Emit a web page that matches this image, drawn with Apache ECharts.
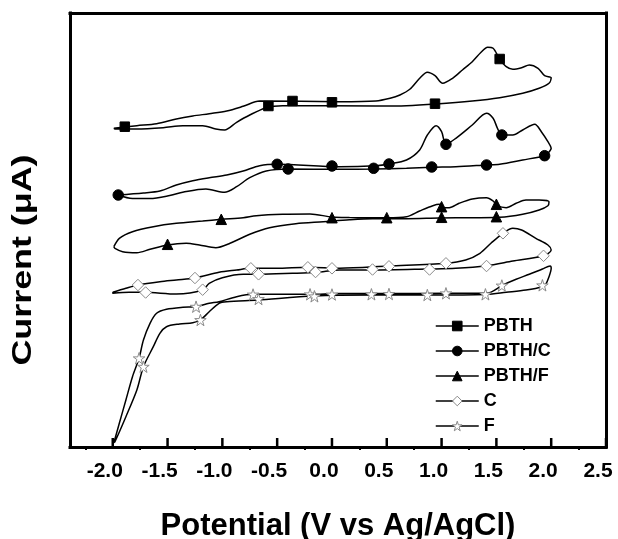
<!DOCTYPE html>
<html><head><meta charset="utf-8">
<script src="https://cdn.jsdelivr.net/npm/echarts@6/dist/echarts.min.js"></script>
<style>html,body{margin:0;padding:0;background:#fff}#c{width:618px;height:539px}</style>
</head><body><div id="c"></div>
<script>
// ---- data (potential in V, current in arbitrary offset units) ----
const seriesNames = ['PBTH', 'PBTH/C', 'PBTH/F', 'C', 'F'];
const xTickValues = [-2.0, -1.5, -1.0, -0.5, 0.0, 0.5, 1.0, 1.5, 2.0, 2.5];
const xMinorTicks = [-2.25, -1.75, -1.25, -0.75, -0.25, 0.25, 0.75, 1.25, 1.75, 2.25];

const pbthLoop = [[-1.99,31.87],[-1.78,32.13],[-1.60,32.33],[-1.42,32.80],[-1.27,33.10],[-1.12,33.33],[-0.96,33.60],[-0.81,34.07],[-0.66,34.60],[0.07,34.53],[0.40,34.60],[0.53,34.87],[0.62,35.20],[0.71,35.77],[0.80,36.87],[0.87,37.47],[0.94,37.13],[1.01,36.37],[1.10,36.87],[1.19,37.70],[1.28,38.53],[1.36,39.47],[1.42,39.97],[1.47,39.87],[1.53,38.80],[1.59,38.03],[1.65,37.77],[1.73,37.93],[1.80,38.20],[1.88,37.87],[1.94,37.13],[2.00,36.93],[1.98,36.37],[1.89,35.87],[1.74,35.37],[1.53,34.93],[1.28,34.60],[0.95,34.30],[0.68,34.13],[0.40,34.10],[-0.45,34.13],[-0.60,33.93],[-0.75,33.20],[-0.87,32.47],[-0.98,31.70],[-1.06,31.80],[-1.18,32.13],[-1.36,32.13],[-1.54,31.93],[-1.78,31.80],[-1.98,31.80],[-1.99,31.87]];
const pbthMarks = [[-1.89,32.03],[-0.58,34.10],[-0.36,34.60],[0.00,34.47],[0.94,34.33],[1.53,38.80]];

const pbthCLoop = [[-1.95,25.20],[-1.72,25.40],[-1.57,25.60],[-1.42,26.20],[-1.27,26.63],[-1.12,26.93],[-0.96,27.20],[-0.81,27.60],[-0.66,28.13],[-0.50,28.27],[0.07,28.03],[0.40,28.13],[0.52,28.30],[0.68,28.70],[0.80,29.70],[0.87,31.20],[0.95,32.13],[1.00,31.53],[1.04,30.27],[1.13,30.87],[1.28,32.20],[1.41,33.37],[1.47,32.87],[1.51,31.87],[1.55,31.20],[1.65,31.20],[1.74,31.70],[1.85,32.27],[1.91,31.53],[1.97,30.53],[2.00,29.87],[1.97,29.37],[1.94,29.13],[1.74,28.70],[1.53,28.27],[1.41,28.20],[1.13,28.03],[0.91,27.97],[0.68,27.87],[0.38,27.80],[0.07,27.77],[-0.40,27.80],[-0.60,27.60],[-0.75,26.93],[-0.87,26.03],[-0.98,25.47],[-1.15,25.80],[-1.33,25.55],[-1.48,25.15],[-1.66,24.85],[-1.82,24.85],[-1.95,25.20]];
const pbthCMarks = [[-1.95,25.20],[-0.50,28.27],[-0.40,27.80],[0.00,28.10],[0.38,27.87],[0.52,28.30],[0.91,28.00],[1.04,30.27],[1.41,28.20],[1.55,31.20],[1.94,29.13]];

const pbthFLoop = [[-1.99,20.03],[-1.94,20.87],[-1.82,21.53],[-1.63,22.03],[-1.42,22.37],[-1.18,22.60],[-1.01,22.77],[-0.81,22.93],[-0.69,23.13],[-0.45,23.27],[-0.20,23.30],[0.00,23.00],[0.16,22.95],[0.50,22.93],[0.68,23.03],[0.80,23.60],[0.92,24.13],[0.98,24.27],[1.02,23.93],[1.07,23.93],[1.16,24.37],[1.28,24.80],[1.41,24.93],[1.47,24.60],[1.51,24.13],[1.59,23.93],[1.68,24.37],[1.77,24.70],[1.89,24.70],[1.98,24.53],[1.97,24.13],[1.89,23.70],[1.74,23.27],[1.53,22.97],[1.28,22.93],[0.98,22.90],[0.68,22.83],[0.37,22.83],[0.16,22.73],[-0.08,22.53],[-0.33,22.33],[-0.57,21.93],[-0.75,21.27],[-0.93,20.37],[-1.06,19.93],[-1.21,20.20],[-1.33,20.37],[-1.50,20.20],[-1.66,19.77],[-1.78,19.43],[-1.91,19.53],[-1.98,19.87],[-1.99,20.03]];
const pbthFMarks = [[-1.01,22.77],[-1.50,20.27],[0.00,22.93],[0.50,22.93],[1.00,24.03],[1.00,22.97],[1.50,24.27],[1.50,23.03]];

const cLoop = [[-2.00,15.47],[-1.88,15.87],[-1.77,16.20],[-1.57,16.53],[-1.42,16.70],[-1.25,16.90],[-1.03,17.47],[-0.87,17.70],[-0.74,17.87],[-0.51,17.87],[-0.22,17.97],[0.07,17.87],[0.52,18.10],[1.04,18.37],[1.22,18.70],[1.35,19.37],[1.45,20.37],[1.56,21.37],[1.65,21.87],[1.73,21.70],[1.86,20.87],[1.97,20.20],[2.00,19.70],[1.93,19.13],[1.65,18.60],[1.41,18.13],[1.13,17.87],[0.88,17.80],[0.37,17.70],[0.07,17.70],[-0.14,17.47],[-0.36,17.37],[-0.67,17.27],[-0.81,17.27],[-1.00,16.93],[-1.12,16.37],[-1.18,15.70],[-1.42,15.30],[-1.71,15.47],[-1.85,15.47],[-2.00,15.37],[-2.00,15.47]];
const cMarks = [[-1.77,16.20],[-1.70,15.45],[-1.25,16.90],[-1.18,15.73],[-0.74,17.87],[-0.67,17.27],[-0.22,17.97],[-0.15,17.50],[0.00,17.87],[0.37,17.75],[0.52,18.07],[0.89,17.75],[1.04,18.37],[1.41,18.10],[1.56,21.37],[1.93,19.12]];

const fLoop = [[-1.99,0.43],[-1.94,2.37],[-1.88,4.70],[-1.82,7.03],[-1.76,8.87],[-1.72,10.70],[-1.66,12.37],[-1.60,13.37],[-1.51,13.77],[-1.36,13.97],[-1.24,14.03],[-1.12,14.37],[-1.03,14.53],[-0.87,15.03],[-0.72,15.27],[-0.45,15.27],[-0.20,15.27],[0.07,15.35],[0.52,15.35],[1.04,15.37],[1.41,15.37],[1.56,16.20],[1.68,16.77],[1.80,17.27],[1.92,17.80],[1.99,18.10],[2.00,17.87],[1.98,17.03],[1.95,16.27],[1.92,16.03],[1.77,15.70],[1.59,15.47],[1.41,15.25],[0.87,15.20],[0.36,15.20],[-0.17,15.10],[-0.68,14.70],[-0.96,14.53],[-1.03,14.37],[-1.12,13.53],[-1.20,12.70],[-1.27,12.43],[-1.39,12.30],[-1.51,12.03],[-1.57,11.37],[-1.63,10.03],[-1.72,8.03],[-1.78,5.70],[-1.88,3.03],[-1.98,0.53],[-1.99,0.43]];
const fMarks = [[-1.76,8.87],[-1.72,8.03],[-1.24,14.03],[-1.20,12.70],[-0.72,15.25],[-0.67,14.80],[-0.20,15.27],[-0.16,15.07],[0.00,15.25],[0.36,15.27],[0.52,15.30],[0.87,15.20],[1.04,15.37],[1.40,15.27],[1.55,16.15],[1.92,16.17]];

const loops = [pbthLoop, pbthCLoop, pbthFLoop, cLoop, fLoop];
const marks = [pbthMarks, pbthCMarks, pbthFMarks, cMarks, fMarks];

// ---- styling ----
const FONT = 'Liberation Sans, Arial, Helvetica, sans-serif';
const STAR = 'path://M50 2 L61 36 L97 36 L68 57 L79 92 L50 71 L21 92 L32 57 L3 36 L39 36 Z';
const symbols = ['rect', 'circle', 'triangle', 'diamond', STAR];
const symbolSizes = [9.5, 10.5, 10.5, 11.5, 11.5];
const fills = ['#000', '#000', '#000', '#fff', '#fff'];
const strokes = ['#000', '#000', '#000', '#8a8a8a', '#8a8a8a'];
const X_MIN = -2.39, X_MAX = 2.5, Y_MIN = 0, Y_MAX = 43.4;
const frameLine = { show: true, onZero: false, lineStyle: { color: '#000', width: 3, cap: 'square' } };
const hiddenLine = { show: false, onZero: false };

const series = [];
seriesNames.forEach((name, i) => {
  series.push({
    name, type: 'line', data: loops[i], xAxisIndex: 0, yAxisIndex: 0,
    symbol: symbols[i], showSymbol: false, smooth: 0.3, z: 2,
    lineStyle: { color: '#000', width: 1.5 },
    itemStyle: { color: fills[i], borderColor: strokes[i], borderWidth: 1 },
    emphasis: { disabled: true }, silent: true
  });
});
seriesNames.forEach((name, i) => {
  series.push({
    name, type: 'scatter', data: marks[i], xAxisIndex: 0, yAxisIndex: 0,
    symbol: symbols[i], symbolSize: symbolSizes[i], z: 3,
    itemStyle: { color: fills[i], borderColor: strokes[i], borderWidth: 1, opacity: 1 },
    emphasis: { disabled: true }, silent: true
  });
});
// inward major tick marks on the bottom axis, placed by the x scale
series.push({
  name: 'majorTicks', type: 'scatter', xAxisIndex: 0, yAxisIndex: 0,
  data: xTickValues.map(v => [v, Y_MIN]), clip: false,
  symbol: 'rect', symbolSize: [2.5, 9], symbolOffset: [0, -4.5], z: 5,
  itemStyle: { color: '#000', opacity: 1 }, emphasis: { disabled: true }, silent: true
});

const chart = echarts.init(document.getElementById('c'), null, { renderer: 'canvas' });
chart.setOption({
  animation: false,
  backgroundColor: '#fff',
  grid: { left: 70, right: 12, top: 13, bottom: 92, show: false, containLabel: false, outerBoundsMode: 'none' },
  legend: {
    orient: 'vertical', left: 435, top: 317, padding: 0,
    itemWidth: 43, itemHeight: 12, itemGap: 7,
    textStyle: { fontFamily: FONT, fontWeight: 'bold', fontSize: 18, color: '#000', lineHeight: 18 },
    data: seriesNames.map((n, i) => ({
      name: n,
      itemStyle: { color: fills[i], borderColor: strokes[i], borderWidth: 1 },
      lineStyle: { color: '#000', width: 1.5 }
    }))
  },
  xAxis: [{
    type: 'value', min: X_MIN, max: X_MAX, position: 'bottom',
    name: 'Potential (V vs Ag/AgCl)', nameLocation: 'middle', nameGap: 64,
    nameTextStyle: { fontFamily: FONT, fontWeight: 'bold', fontSize: 31, color: '#000' },
    axisLine: frameLine,
    axisTick: { show: false },
    axisLabel: { show: true, customValues: xTickValues, margin: 14, padding: [0, 16, 0, 0],
      fontFamily: FONT, fontWeight: 'bold', fontSize: 21, color: '#000',
      formatter: v => v.toFixed(1) },
    splitLine: { show: false }
  }, {
    type: 'value', min: X_MIN, max: X_MAX, position: 'bottom',
    axisLine: hiddenLine,
    axisTick: { show: true, inside: false, length: 3, lineStyle: { color: '#000', width: 2 }, customValues: xMinorTicks },
    axisLabel: { show: false }, splitLine: { show: false }
  }, {
    type: 'value', min: X_MIN, max: X_MAX, position: 'top',
    axisLine: frameLine, axisTick: { show: false }, axisLabel: { show: false }, splitLine: { show: false }
  }],
  yAxis: [{
    type: 'value', min: Y_MIN, max: Y_MAX, position: 'left',
    axisLine: frameLine,
    axisTick: { show: false }, axisLabel: { show: false }, splitLine: { show: false }
  }, {
    type: 'value', min: Y_MIN, max: Y_MAX, position: 'right',
    axisLine: frameLine,
    axisTick: { show: false }, axisLabel: { show: false }, splitLine: { show: false }
  }],
  graphic: [{
    type: 'text', x: 23, y: 260, rotation: Math.PI / 2, scaleX: 1.28, scaleY: 1,
    style: { text: 'Current (μA)', fontFamily: FONT, fontWeight: 'bold', fontSize: 28, fill: '#000', align: 'center', verticalAlign: 'middle' }
  }],
  series
});
</script>
</body></html>
